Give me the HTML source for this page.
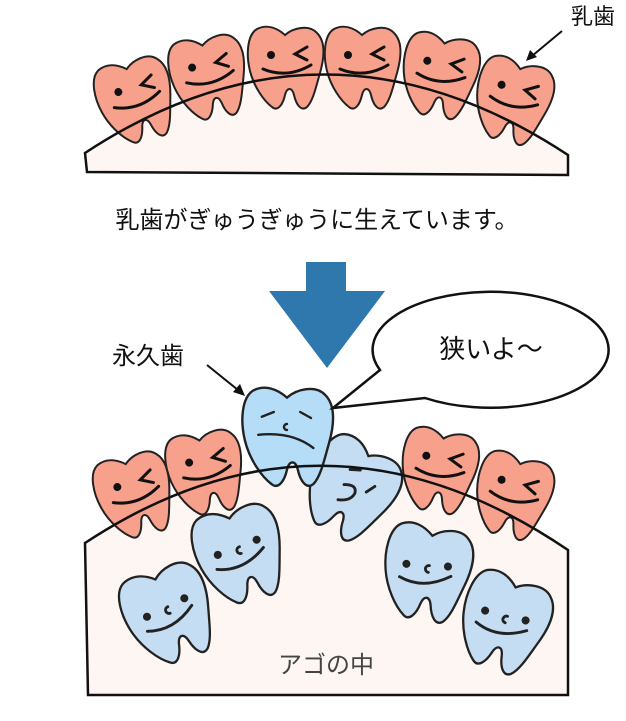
<!DOCTYPE html>
<html><head><meta charset="utf-8"><style>
html,body{margin:0;padding:0;background:#fff;}
svg{display:block;}
text{font-family:"Liberation Sans","Noto Sans CJK JP",sans-serif;}
</style></head><body>
<svg width="626" height="721" viewBox="0 0 626 721" xmlns="http://www.w3.org/2000/svg">
<defs>
<path id="tooth" d="M -28,-38 C -18,-43 -8,-39 0,-32 C 8,-39 24,-43 32,-34 C 41,-25 39,-8 35,6 C 31,20 28,34 22,40 C 16,45 11,37 9,28 C 7,20 2,20 0,28 C -2,37 -7,45 -13,40 C -21,34 -31,20 -35,4 C -39,-12 -38,-32 -28,-38 Z"/>
<g id="redface" fill="none" stroke="#111" stroke-width="3" stroke-linecap="round">
<circle cx="-14" cy="-12" r="4" fill="#111" stroke="none"/>
<path d="M 22,-20 L 10,-13 L 22,-7"/>
<path d="M -22,2 Q 2,12 26,-2"/>
</g>
<g id="blueface" fill="none" stroke="#222" stroke-width="2.5" stroke-linecap="round">
<circle cx="-18" cy="-4" r="3.5" fill="#222" stroke="none"/>
<circle cx="18" cy="-8" r="3.5" fill="#222" stroke="none"/>
<path d="M 2,-6 A 3,3 0 1 0 2,0"/>
<path d="M -22,8 Q 0,16 22,0"/>
</g>
</defs>

<!-- TOP JAW -->
<path d="M 85,153 L 87,172 L 568,175 L 568,155 Q 325,-5 85,153 Z" fill="#fdf6f3"/>
<g stroke="#222" stroke-width="2" fill="#f7a08c">
<g transform="translate(135,100) rotate(-15)"><use href="#tooth"/><use href="#redface"/></g>
<g transform="translate(208,77) rotate(-10)"><use href="#tooth"/><use href="#redface"/></g>
<g transform="translate(285,67)"><use href="#tooth"/><use href="#redface"/></g>
<g transform="translate(362,67)"><use href="#tooth"/><use href="#redface"/></g>
<g transform="translate(439,75) rotate(10)"><use href="#tooth"/><use href="#redface"/></g>
<g transform="translate(512,100) rotate(15)"><use href="#tooth"/><use href="#redface"/></g>
</g>
<path d="M 85,153 L 87,172 L 568,175 L 568,155 Q 325,-5 85,153 Z" fill="none" stroke="#111" stroke-width="2.5"/>

<text x="571" y="24" font-size="22" fill="#111">乳歯</text>
<line x1="562" y1="31" x2="532" y2="56" stroke="#111" stroke-width="2"/>
<path d="M 526,61 L 530,50 L 537,57 Z" fill="#111"/>

<text x="317" y="228" font-size="24" fill="#111" text-anchor="middle">乳歯がぎゅうぎゅうに生えています。</text>

<!-- ARROW -->
<path d="M 306,262 L 346,262 L 346,291 L 385,291 L 327,368 L 269,291 L 306,291 Z" fill="#2f78ae"/>

<!-- BOTTOM JAW -->
<path d="M 85,543 L 88,695 L 568,695 L 568,550 Q 325,385 85,543 Z" fill="#fdf6f3"/>
<g stroke="#222" stroke-width="2" fill="#c4ddf2">
<g transform="translate(168,614) rotate(-20) scale(1.15)"><use href="#tooth"/><use href="#blueface"/></g>
<g transform="translate(239,554) rotate(-15) scale(1.15)"><use href="#tooth"/><use href="#blueface"/></g>
<g transform="translate(426,572) rotate(10) scale(1.15)"><use href="#tooth"/><use href="#blueface"/></g>
<g transform="translate(503,622) rotate(20) scale(1.15)"><use href="#tooth"/><use href="#blueface"/></g>
</g>
<g stroke="#222" stroke-width="2" fill="#f7a08c">
<g transform="translate(134,495) rotate(-15)"><use href="#tooth"/><use href="#redface"/></g>
<g transform="translate(205,472) rotate(-10)"><use href="#tooth"/><use href="#redface"/></g>
<g transform="translate(438,470) rotate(10)"><use href="#tooth"/><use href="#redface"/></g>
<g transform="translate(512,495) rotate(15)"><use href="#tooth"/><use href="#redface"/></g>
</g>
<g stroke="#222" stroke-width="2" fill="#c4ddf2">
<g transform="translate(350,488) rotate(30) scale(1.15)"><use href="#tooth"/>
<g fill="none" stroke="#222" stroke-width="2.5" stroke-linecap="round"><path d="M -8,-14 L 0,-18"/><path d="M 14,-4 L 18,-12"/><path d="M -6,0 Q 4,-6 6,2 Q 6,10 -4,14"/></g></g>
</g>
<g stroke="#222" stroke-width="2" fill="#b5ddf8">
<g transform="translate(287,436) scale(1.2)"><use href="#tooth"/>
<g fill="none" stroke="#222" stroke-width="2" stroke-linecap="round"><path d="M -21,-16 L -11,-20"/><path d="M 11,-20 L 20,-15"/><path d="M 0,-10 A 2.5,2.5 0 1 0 0,-5"/><path d="M -24,-1 Q 4,-4 22,10"/></g></g>
</g>
<path d="M 85,543 L 88,695 L 568,695 L 568,550 Q 325,385 85,543 Z" fill="none" stroke="#111" stroke-width="2.5"/>

<text x="326" y="673" font-size="24" fill="#444" text-anchor="middle">アゴの中</text>

<text x="112" y="364" font-size="24" fill="#111">永久歯</text>
<line x1="207" y1="365" x2="238" y2="390" stroke="#111" stroke-width="2"/>
<path d="M 245,396 L 233,392 L 240,384 Z" fill="#111"/>

<!-- Speech bubble -->
<path d="M 333,408 L 380,370 A 118,58 0 1 1 425,398 Z" fill="#fff" stroke="#111" stroke-width="2.5"/>
<text x="491" y="358" font-size="26" fill="#111" text-anchor="middle">狭いよ〜</text>
</svg>
</body></html>
